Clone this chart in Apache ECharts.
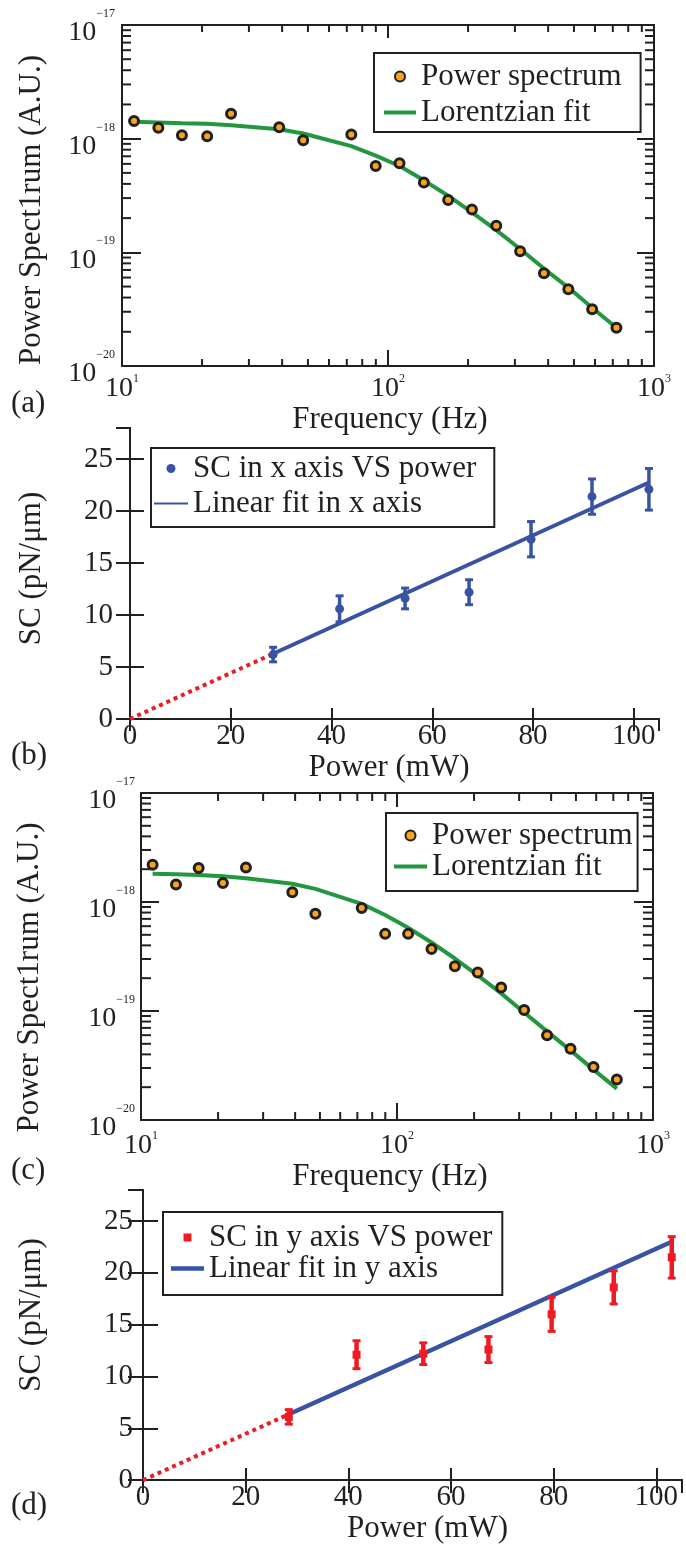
<!DOCTYPE html>
<html>
<head>
<meta charset="utf-8">
<style>
  html, body { margin: 0; padding: 0; background: #fff; }
  #chart { width: 686px; height: 1545px; }
</style>
<script src="https://cdn.jsdelivr.net/npm/echarts@6/dist/echarts.min.js"></script>
</head>
<body>
<div id="chart"></div>
<script>
// sampled frequencies (Hz), same for panels (a) and (c)
const freq = [11.1, 13.7, 16.8, 20.9, 25.7, 39.0, 48.0, 72.8, 89.9, 110.5, 136.4, 168.3, 206.8, 255.3, 313.9, 385.7, 476.3, 585.5, 722.4];

// (a) power spectrum, x direction
const psdA = [1.43e-18, 1.25e-18, 1.07e-18, 1.05e-18, 1.66e-18, 1.26e-18, 9.7e-19, 1.09e-18, 5.75e-19, 6.07e-19, 4.11e-19, 2.88e-19, 2.38e-19, 1.71e-19, 1.02e-19, 6.54e-20, 4.74e-20, 3.16e-20, 2.17e-20];
const fitA = [1.41e-18, 1.39e-18, 1.37e-18, 1.35e-18, 1.31e-18, 1.21e-18, 1.11e-18, 8.6e-19, 7.1e-19, 5.75e-19, 4.3e-19, 3.15e-19, 2.25e-19, 1.57e-19, 1.07e-19, 7.2e-20, 4.9e-20, 3.25e-20, 2.17e-20];

// (c) power spectrum, y direction
const psdC = [2.20e-18, 1.45e-18, 2.05e-18, 1.49e-18, 2.07e-18, 1.23e-18, 7.8e-19, 8.8e-19, 5.1e-19, 5.1e-19, 3.7e-19, 2.57e-19, 2.26e-19, 1.64e-19, 1.02e-19, 6.0e-20, 4.5e-20, 3.06e-20, 2.35e-20];
const fitC = [1.82e-18, 1.80e-18, 1.77e-18, 1.72e-18, 1.65e-18, 1.47e-18, 1.32e-18, 9.6e-19, 7.6e-19, 5.8e-19, 4.25e-19, 3.03e-19, 2.12e-19, 1.45e-19, 9.7e-20, 6.5e-20, 4.35e-20, 2.9e-20, 1.94e-20];

// (b) / (d) stiffness vs laser power
const power = [28.4, 41.6, 54.6, 67.3, 79.6, 91.7, 103.0];
const scX = [6.2, 10.6, 11.6, 12.2, 17.3, 21.4, 22.1];
const errX = [0.7, 1.25, 1.0, 1.2, 1.7, 1.7, 2.0];
const scY = [6.1, 12.1, 12.2, 12.6, 16.0, 18.6, 21.5];
const errY = [0.7, 1.35, 1.05, 1.25, 1.65, 1.6, 2.0];

const fitPower = [28.4, 103.0];
const fitScX = [6.28, 22.76];
const fitScY = [6.35, 23.0];
const extraPower = [0, 28.4];
const extraScX = [0, 6.28];
const extraScY = [0, 6.35];

// minor tick positions of the log axes
const minorFreq = [20, 30, 40, 50, 60, 70, 80, 90, 200, 300, 400, 500, 600, 700, 800, 900];
const minorPsd = [2e-20, 3e-20, 4e-20, 5e-20, 6e-20, 7e-20, 8e-20, 9e-20,
                  2e-19, 3e-19, 4e-19, 5e-19, 6e-19, 7e-19, 8e-19, 9e-19,
                  2e-18, 3e-18, 4e-18, 5e-18, 6e-18, 7e-18, 8e-18, 9e-18];

const ink = '#231f20';
const serif = "'Liberation Serif', 'Times New Roman', serif";
const orange = '#f7a51c';
const green = '#23973f';
const blue = '#3953a4';
const red = '#ed1c24';

const expText = v => {
  const e = Math.round(Math.log10(v));
  return '{b|10}{s|' + (e < 0 ? '\u2212' + (-e) : e) + '}';
};
// superscript: tall line, base glued to bottom, exponent to top
const richY = {
  b: { fontSize: 28, fontFamily: serif, color: ink, lineHeight: 44, verticalAlign: 'bottom' },
  s: { fontSize: 12, fontFamily: serif, color: ink, lineHeight: 14, verticalAlign: 'top', padding: [5, 0, 0, 0] }
};
const richX = {
  b: { fontSize: 28, fontFamily: serif, color: ink, lineHeight: 30, verticalAlign: 'bottom' },
  s: { fontSize: 12, fontFamily: serif, color: ink, lineHeight: 14, verticalAlign: 'top' }
};
const nameStyle = pad => ({ fontSize: 31, fontFamily: serif, color: ink, lineHeight: 31, padding: pad });
const axisLine = { show: true, lineStyle: { color: ink, width: 2 } };
const tick = len => ({ show: true, inside: true, length: len, lineStyle: { color: ink, width: 2 } });

function logX(grid, pos, len, extra) {
  return Object.assign({
    type: 'log', logBase: 10, gridIndex: grid, position: pos, min: 10, max: 1000,
    axisLine, axisTick: tick(len), splitLine: { show: false },
    axisLabel: { show: false }
  }, extra);
}
function logY(grid, pos, len, extra) {
  return Object.assign({
    type: 'log', logBase: 10, gridIndex: grid, position: pos, min: 1e-20, max: 1e-17,
    axisLine, axisTick: tick(len), splitLine: { show: false },
    axisLabel: { show: false }
  }, extra);
}
function linX(grid, pos, len, extra) {
  return Object.assign({
    type: 'value', gridIndex: grid, position: pos, min: 0, max: 105, interval: 20,
    axisLine, axisTick: tick(len), splitLine: { show: false },
    axisLabel: { show: false }
  }, extra);
}
function linY(grid, pos, len, extra) {
  return Object.assign({
    type: 'value', gridIndex: grid, position: pos, min: 0, max: 28, interval: 5,
    axisLine, axisTick: tick(len), splitLine: { show: false },
    axisLabel: { show: false }
  }, extra);
}

// short minor ticks on all four sides of a log-log panel
function minorTicks(xi, yi, lens) {
  const data = minorFreq.map(v => [v, 1e-20, 0]).concat(minorPsd.map(v => [10, v, 1]));
  return {
    type: 'custom', xAxisIndex: xi, yAxisIndex: yi, silent: true, z: 3,
    dimensions: ['x', 'y', 'k'], encode: { x: 0, y: 1 },
    data,
    renderItem(params, api) {
      const style = { stroke: ink, lineWidth: 2 };
      if (api.value(2) === 0) {
        const b = api.coord([api.value(0), 1e-20]);
        const t = api.coord([api.value(0), 1e-17]);
        return { type: 'group', children: [
          { type: 'line', shape: { x1: b[0], y1: b[1], x2: b[0], y2: b[1] - lens.bottom }, style },
          { type: 'line', shape: { x1: t[0], y1: t[1], x2: t[0], y2: t[1] + lens.top }, style }
        ] };
      }
      const l = api.coord([10, api.value(1)]);
      const r = api.coord([1000, api.value(1)]);
      return { type: 'group', children: [
        { type: 'line', shape: { x1: l[0], y1: l[1], x2: l[0] + lens.left, y2: l[1] }, style },
        { type: 'line', shape: { x1: r[0], y1: r[1], x2: r[0] - lens.right, y2: r[1] }, style }
      ] };
    }
  };
}

function errorBars(xi, yi, ys, es, color, w) {
  return {
    type: 'custom', xAxisIndex: xi, yAxisIndex: yi, silent: true, z: 4,
    dimensions: ['x', 'lo', 'hi'], encode: { x: 0, y: [1, 2] },
    data: power.map((p, i) => [p, ys[i] - es[i], ys[i] + es[i]]),
    renderItem(params, api) {
      const lo = api.coord([api.value(0), api.value(1)]);
      const hi = api.coord([api.value(0), api.value(2)]);
      const cap = 4;
      const bar = { stroke: color, lineWidth: w };
      const capStyle = { stroke: color, lineWidth: 3 };
      return { type: 'group', children: [
        { type: 'line', shape: { x1: lo[0], y1: lo[1], x2: hi[0], y2: hi[1] }, style: bar },
        { type: 'line', shape: { x1: lo[0] - cap, y1: lo[1], x2: lo[0] + cap, y2: lo[1] }, style: capStyle },
        { type: 'line', shape: { x1: hi[0] - cap, y1: hi[1], x2: hi[0] + cap, y2: hi[1] }, style: capStyle }
      ] };
    }
  };
}

const legendText = lh => ({ fontSize: 31, fontFamily: serif, color: ink, lineHeight: lh });
const legendBox = { orient: 'vertical', borderColor: ink, borderWidth: 2, borderRadius: 0, backgroundColor: '#fff', selectedMode: false, symbolKeepAspect: true };
// legend glyphs: plain bar for the fits, small square for (d)
const barIcon = (w, h) => 'path://M0,0L' + w + ',0L' + w + ',' + h + 'L0,' + h + 'Z';
const squareIcon = 'path://M0,0L1,0L1,1L0,1Z';

const option = {
  animation: false,
  backgroundColor: '#fff',
  grid: [
    { left: 122, top: 25, width: 532, height: 341 },
    { left: 130, top: 428, width: 529, height: 291 },
    { left: 141, top: 793, width: 512, height: 327 },
    { left: 143, top: 1190, width: 539, height: 294 }
  ],
  xAxis: [
    logX(0, 'bottom', 16, {
      axisLabel: { show: true, margin: 7, formatter: expText, rich: richX },
      name: 'Frequency (Hz)', nameLocation: 'middle', nameGap: 22, nameTextStyle: nameStyle([0, 0, 0, 4])
    }),
    logX(0, 'top', 13),
    linX(1, 'bottom', 11, {
      axisLabel: { show: true, margin: 3, showMaxLabel: false, fontSize: 29, fontFamily: serif, color: ink },
      name: 'Power (mW)', nameLocation: 'middle', nameGap: 28, nameTextStyle: nameStyle([0, 11, 0, 0])
    }),
    linX(1, 'top', 12),
    logX(2, 'bottom', 17, {
      axisLabel: { show: true, margin: 10, formatter: expText, rich: richX },
      name: 'Frequency (Hz)', nameLocation: 'middle', nameGap: 28, nameTextStyle: nameStyle([0, 14, 0, 0])
    }),
    logX(2, 'top', 14),
    linX(3, 'bottom', 12, {
      axisLabel: { show: true, margin: 3, showMaxLabel: false, fontSize: 29, fontFamily: serif, color: ink },
      name: 'Power (mW)', nameLocation: 'middle', nameGap: 26, nameTextStyle: nameStyle([0, 0, 0, 30])
    }),
    linX(3, 'top', 13)
  ],
  yAxis: [
    logY(0, 'left', 19, {
      axisLabel: { show: true, margin: 7, formatter: expText, rich: richY },
      name: 'Power Spect1rum (A.U.)', nameLocation: 'middle', nameRotate: 90, nameGap: 75, nameTextStyle: nameStyle([0, 29, 0, 0])
    }),
    logY(0, 'right', 17),
    linY(1, 'left', 14, {
      axisLabel: { show: true, margin: 17, showMaxLabel: false, fontSize: 29, fontFamily: serif, color: ink },
      name: 'SC (pN/\u03bcm)', nameLocation: 'middle', nameRotate: 90, nameGap: 83, nameTextStyle: nameStyle([0, 0, 0, 10])
    }),
    linY(1, 'right', 14),
    logY(2, 'left', 18, {
      axisLabel: { show: true, margin: 6, formatter: expText, rich: richY },
      name: 'Power Spect1rum (A.U.)', nameLocation: 'middle', nameRotate: 90, nameGap: 96, nameTextStyle: nameStyle([0, 42, 0, 0])
    }),
    logY(2, 'right', 19),
    linY(3, 'left', 15, {
      axisLabel: { show: true, margin: 10, showMaxLabel: false, fontSize: 29, fontFamily: serif, color: ink },
      name: 'SC (pN/\u03bcm)', nameLocation: 'middle', nameRotate: 90, nameGap: 96, nameTextStyle: nameStyle([0, 0, 0, 40])
    }),
    linY(3, 'right', 15)
  ],
  legend: [
    Object.assign({}, legendBox, {
      left: 374, top: 53, padding: [8, 19, 4, 10], itemGap: 5, itemWidth: 32, itemHeight: 10,
      textStyle: legendText(28),
      data: ['Power spectrum', { name: 'Lorentzian fit', icon: barIcon(32, 4) }]
    }),
    Object.assign({}, legendBox, {
      left: 151, top: 448, padding: [5, 18, 8, 3], itemGap: 4, itemWidth: 34, itemHeight: 9,
      textStyle: legendText(28),
      data: ['SC in x axis VS power', { name: 'Linear fit in x axis', icon: barIcon(34, 2) }]
    }),
    Object.assign({}, legendBox, {
      left: 386, top: 813, padding: [7, 5, 9, 8], itemGap: 0, itemWidth: 33, itemHeight: 10,
      textStyle: legendText(28),
      data: ['Power spectrum', { name: 'Lorentzian fit', icon: barIcon(33, 4) }]
    }),
    Object.assign({}, legendBox, {
      left: 163, top: 1212, padding: [10, 10, 11, 8], itemGap: 0, itemWidth: 33, itemHeight: 8,
      textStyle: legendText(26),
      data: [{ name: 'SC in y axis VS power', icon: squareIcon }, { name: 'Linear fit in y axis', icon: barIcon(33, 4.5) }]
    })
  ],
  graphic: [
    { type: 'text', x: 11, y: 404, style: { text: '(a)', fontSize: 31, fontFamily: serif, fill: ink, verticalAlign: 'middle' } },
    { type: 'text', x: 11, y: 756, style: { text: '(b)', fontSize: 31, fontFamily: serif, fill: ink, verticalAlign: 'middle' } },
    { type: 'text', x: 11, y: 1171, style: { text: '(c)', fontSize: 31, fontFamily: serif, fill: ink, verticalAlign: 'middle' } },
    { type: 'text', x: 11, y: 1506, style: { text: '(d)', fontSize: 31, fontFamily: serif, fill: ink, verticalAlign: 'middle' } }
  ],
  series: [
    // (a)
    minorTicks(0, 0, { left: 9, right: 9, bottom: 7, top: 7 }),
    {
      name: 'Lorentzian fit', type: 'line', xAxisIndex: 0, yAxisIndex: 0, z: 4,
      data: freq.map((f, i) => [f, fitA[i]]), symbol: 'none',
      lineStyle: { color: green, width: 4 }, itemStyle: { color: green }
    },
    {
      name: 'Power spectrum', type: 'scatter', xAxisIndex: 0, yAxisIndex: 0, z: 5,
      data: freq.map((f, i) => [f, psdA[i]]), symbol: 'circle', symbolSize: 9,
      itemStyle: { color: orange, borderColor: ink, borderWidth: 3, opacity: 1 }
    },
    // (b)
    {
      type: 'line', xAxisIndex: 2, yAxisIndex: 2, z: 3,
      data: extraPower.map((p, i) => [p, extraScX[i]]), symbol: 'none',
      lineStyle: { color: red, width: 4, type: [4, 4] }
    },
    errorBars(2, 2, scX, errX, blue, 3.5),
    {
      name: 'Linear fit in x axis', type: 'line', xAxisIndex: 2, yAxisIndex: 2, z: 4,
      data: fitPower.map((p, i) => [p, fitScX[i]]), symbol: 'none',
      lineStyle: { color: blue, width: 4 }, itemStyle: { color: blue }
    },
    {
      name: 'SC in x axis VS power', type: 'scatter', xAxisIndex: 2, yAxisIndex: 2, z: 5,
      data: power.map((p, i) => [p, scX[i]]), symbol: 'circle', symbolSize: 9,
      itemStyle: { color: blue, opacity: 1 }
    },
    // (c)
    minorTicks(4, 4, { left: 10, right: 10, bottom: 8, top: 8 }),
    {
      name: 'Lorentzian fit', type: 'line', xAxisIndex: 4, yAxisIndex: 4, z: 4,
      data: freq.map((f, i) => [f, fitC[i]]), symbol: 'none',
      lineStyle: { color: green, width: 4 }, itemStyle: { color: green }
    },
    {
      name: 'Power spectrum', type: 'scatter', xAxisIndex: 4, yAxisIndex: 4, z: 5,
      data: freq.map((f, i) => [f, psdC[i]]), symbol: 'circle', symbolSize: 9,
      itemStyle: { color: orange, borderColor: ink, borderWidth: 3, opacity: 1 }
    },
    // (d)
    {
      type: 'line', xAxisIndex: 6, yAxisIndex: 6, z: 3,
      data: extraPower.map((p, i) => [p, extraScY[i]]), symbol: 'none',
      lineStyle: { color: red, width: 4, type: [4, 4] }
    },
    {
      name: 'Linear fit in y axis', type: 'line', xAxisIndex: 6, yAxisIndex: 6, z: 3,
      data: fitPower.map((p, i) => [p, fitScY[i]]), symbol: 'none',
      lineStyle: { color: blue, width: 4.5 }, itemStyle: { color: blue }
    },
    errorBars(6, 6, scY, errY, red, 4.5),
    {
      name: 'SC in y axis VS power', type: 'scatter', xAxisIndex: 6, yAxisIndex: 6, z: 5,
      data: power.map((p, i) => [p, scY[i]]), symbol: 'rect', symbolSize: 8,
      itemStyle: { color: red, opacity: 1 }
    }
  ]
};

const chart = echarts.init(document.getElementById('chart'));
chart.setOption(option);
window.addEventListener('resize', () => chart.resize());
</script>
</body>
</html>
